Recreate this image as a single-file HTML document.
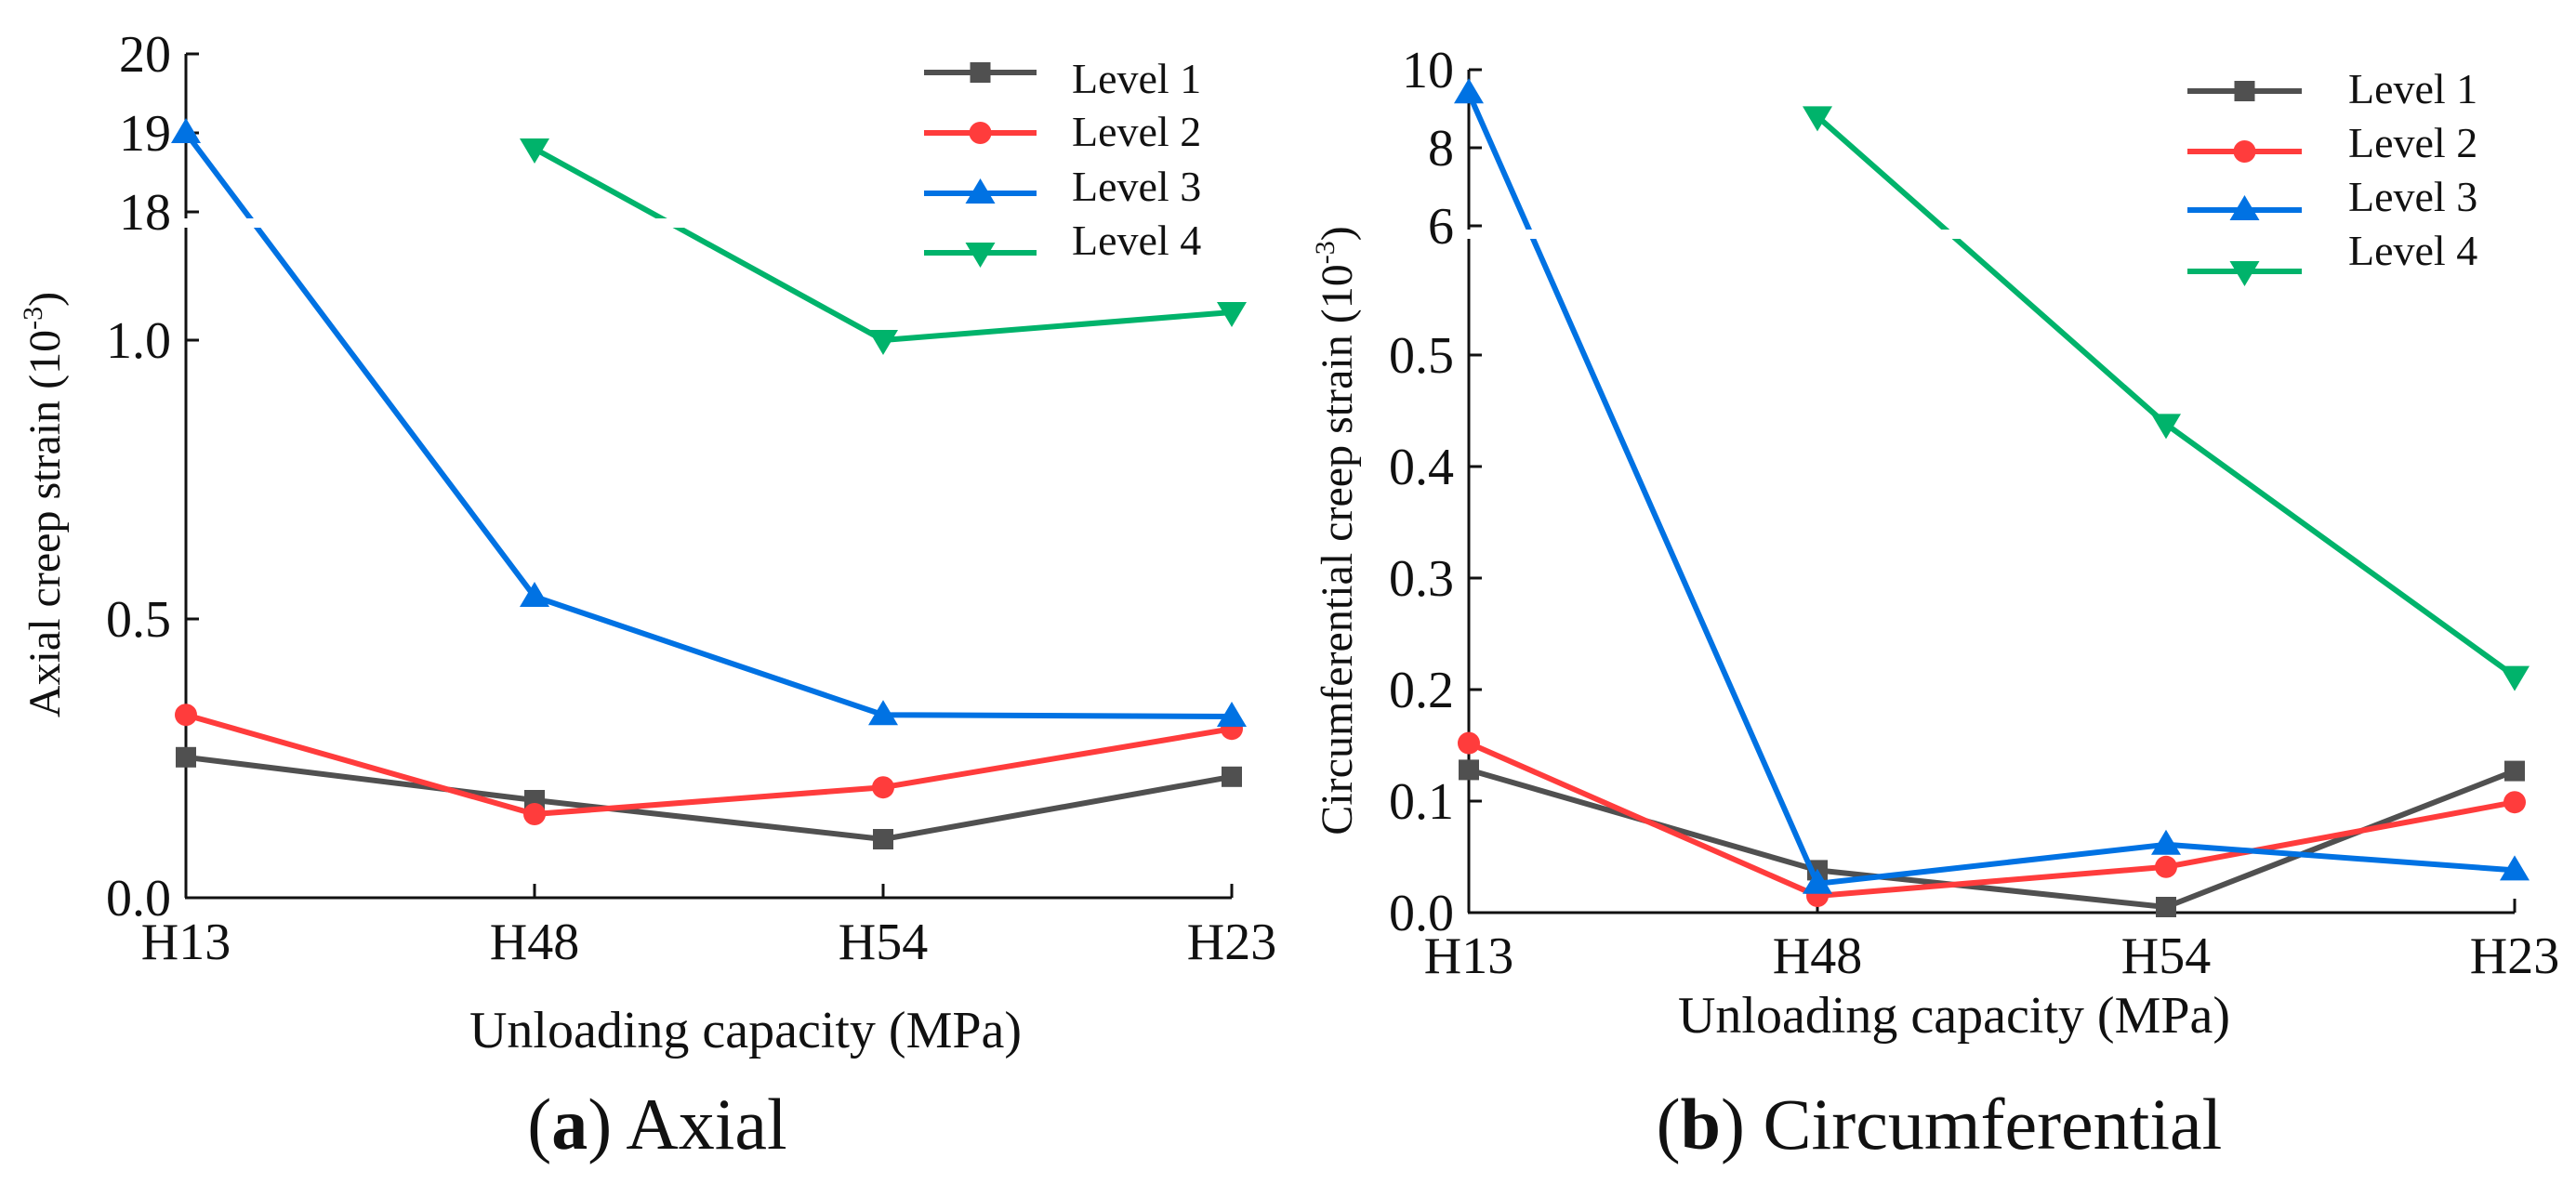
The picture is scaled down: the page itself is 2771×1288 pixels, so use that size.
<!DOCTYPE html>
<html><head><meta charset="utf-8">
<style>
html,body{margin:0;padding:0;background:#fff;}
svg{display:block;font-family:"Liberation Serif",serif;}
</style></head>
<body>
<svg id="fig" width="2771" height="1288" viewBox="0 0 2771 1288" xmlns="http://www.w3.org/2000/svg">
</svg>
<script>
const categories = ["H13","H48","H54","H23"];
// Axial (a)
const axialL1 = [0.252, 0.175, 0.105, 0.217];
const axialL2 = [0.328, 0.150, 0.198, 0.303];
const axialL3 = [19.0, 0.54, 0.328, 0.325];
const axialL4 = [null, 18.8, 1.0, 1.05];
const axialTicks = ["0.0","0.5","1.0","18","19","20"];
const axialTickVals = [0, 0.5, 1.0, 18, 19, 20];
// Circumferential (b)
const circL1 = [0.128, 0.038, 0.005, 0.127];
const circL2 = [0.152, 0.015, 0.041, 0.099];
const circL3 = [9.4, 0.026, 0.061, 0.038];
const circL4 = [null, 8.8, 0.438, 0.212];
const circTicks = ["0.0","0.1","0.2","0.3","0.4","0.5","6","8","10"];
const circTickVals = [0, 0.1, 0.2, 0.3, 0.4, 0.5, 6, 8, 10];
const levelNames = ["Level 1","Level 2","Level 3","Level 4"];

const NS = "http://www.w3.org/2000/svg";
const svg = document.getElementById("fig");
const colors = ["#505050","#ff3c3c","#0072e3","#00b36b"];
const markers = ["square","circle","up","down"];

function el(tag, attrs, parent){
  const e = document.createElementNS(NS, tag);
  for (const k in attrs) e.setAttribute(k, attrs[k]);
  (parent||svg).appendChild(e);
  return e;
}
function marker(g, type, x, y, c){
  let m;
  if (type==="square") m = el("rect",{x:x-11,y:y-11,width:22,height:22,fill:c},g);
  else if (type==="circle") m = el("circle",{cx:x,cy:y,r:12,fill:c},g);
  else if (type==="up") m = el("polygon",{points:`${x},${y-16} ${x-16},${y+11} ${x+16},${y+11}`,fill:c},g);
  else m = el("polygon",{points:`${x},${y+16} ${x-16},${y-11} ${x+16},${y-11}`,fill:c},g);
  return m;
}

function drawPanel(cfg){
  const g = el("g",{});
  
  
  const xScale = i => cfg.x0 + i*cfg.dx;
  const yScale = cfg.yScale;
  const xEnd = xScale(categories.length-1);
  const ya = el("line",{x1:cfg.x0,y1:cfg.y0,x2:cfg.x0,y2:yScale(cfg.tickVals[cfg.tickVals.length-1]),stroke:"#111","stroke-width":3},g);
  
  
  const xa = el("line",{x1:cfg.x0-1,y1:cfg.y0,x2:xEnd,y2:cfg.y0,stroke:"#111","stroke-width":3},g);
  
  
  cfg.tickVals.forEach((v,i)=>{
    const y = yScale(v);
    el("line",{x1:cfg.x0,y1:y,x2:cfg.x0+14,y2:y,stroke:"#111","stroke-width":3},g);
    const t = el("text",{x:cfg.x0-16,y:y+19,"text-anchor":"end","font-size":56,fill:"#111"},g);
    t.textContent = cfg.ticks[i];
    
    
  });
  categories.forEach((c,i)=>{
    const x = xScale(i);
    if(i>0) el("line",{x1:x,y1:cfg.y0,x2:x,y2:cfg.y0-15,stroke:"#111","stroke-width":3},g);
    const t = el("text",{x:x,y:cfg.xlabY,"text-anchor":"middle","font-size":56,fill:"#111"},g);
    t.textContent = c;
    
    
  });
  el("rect",{x:cfg.x0-4,y:cfg.breakY-5,width:8,height:10,fill:"#fff"},g);
  cfg.series.forEach((s,si)=>{
    const sg = el("g",{},g);
    
    
    const pts = [];
    s.forEach((v,i)=>{ if(v!==null) pts.push([xScale(i), yScale(v)]); });
    const pl = el("polyline",{points:pts.map(p=>p.join(",")).join(" "),fill:"none",stroke:colors[si],"stroke-width":6,"stroke-linejoin":"round"},sg);
    
    
    for(let k=0;k<pts.length-1;k++){
      const [xa1,ya1]=pts[k],[xb,yb]=pts[k+1];
      if((ya1-cfg.breakY)*(yb-cfg.breakY)<0){
        const t=(cfg.breakY-ya1)/(yb-ya1);
        const xi=xa1+t*(xb-xa1);
        el("rect",{x:xi-16,y:cfg.breakY-5,width:32,height:10,fill:"#fff"},sg);
      }
    }
    pts.forEach(p=>{
      const m = marker(sg, markers[si], p[0], p[1], colors[si]);
      
      
    });
  });
  const lg = el("g",{},g);
  
  
  levelNames.forEach((n,i)=>{
    const eg = el("g",{},lg);
    
    
    const ly = cfg.legRows[i];
    el("line",{x1:cfg.legX1,y1:ly,x2:cfg.legX2,y2:ly,stroke:colors[i],"stroke-width":6},eg);
    marker(eg, markers[i], (cfg.legX1+cfg.legX2)/2, ly, colors[i]);
    const t = el("text",{x:cfg.legTextX,y:cfg.legBase[i],"font-size":46,fill:"#111"},eg);
    t.textContent = n;
  });
  const yt = el("text",{transform:`translate(${cfg.ytX},${cfg.ytY}) rotate(-90)`,"text-anchor":"middle","font-size":48,fill:"#111"},g);
  yt.innerHTML = cfg.ytitle + ' (10<tspan font-size="30" dy="-19">-3</tspan><tspan dy="19">)</tspan>';
  
  
  const xt = el("text",{x:cfg.xtX,y:cfg.xtY,"text-anchor":"middle","font-size":56,fill:"#111"},g);
  xt.textContent = "Unloading capacity (MPa)";
  
  
  const cap = el("text",{x:cfg.capX,y:1236,"text-anchor":"middle","font-size":78,fill:"#111"},g);
  cap.innerHTML = '(<tspan font-weight="bold">'+cfg.capL+'</tspan>) '+cfg.capT;
  
  
}

drawPanel({
  name:"axial-chart", x0:200, dx:375, y0:966, breakY:240,
  yScale: v => v<=1.5 ? 966 - v*600 : 228 - (v-18)*85,
  ticks:axialTicks, tickVals:axialTickVals, xlabY:1032,
  series:[axialL1,axialL2,axialL3,axialL4],
  legX1:994, legX2:1115, legRows:[78,143,208,272], legTextX:1153, legBase:[100,157,216,274],
  ytitle:"Axial creep strain", ytX:64, ytY:543, xtX:802, xtY:1127,
  capX:707, capL:"a", capT:"Axial"
});
drawPanel({
  name:"circumferential-chart", x0:1580, dx:375, y0:982, breakY:252,
  yScale: v => v<=0.7 ? 982 - v*1200 : 243 - (v-6)*42,
  ticks:circTicks, tickVals:circTickVals, xlabY:1047,
  series:[circL1,circL2,circL3,circL4],
  legX1:2353, legX2:2476, legRows:[98,163,226,292], legTextX:2526, legBase:[111,169,227,285],
  ytitle:"Circumferential creep strain", ytX:1454, ytY:571, xtX:2102, xtY:1111,
  capX:2086, capL:"b", capT:"Circumferential"
});
</script>
</body></html>
